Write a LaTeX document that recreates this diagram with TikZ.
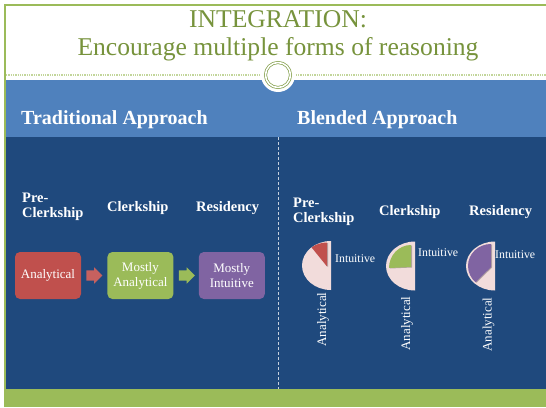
\documentclass[tikz,border=0pt]{standalone}
\usepackage{fontspec}
\setmainfont{Liberation Serif}
\usetikzlibrary{positioning, shapes.arrows, calc}

\definecolor{titlegreen}{HTML}{77933C}
\definecolor{bargreen}{HTML}{9BBB59}
\definecolor{bandblue}{HTML}{4F81BD}
\definecolor{deepblue}{HTML}{1F497D}
\definecolor{boxred}{HTML}{C0504D}
\definecolor{boxpurple}{HTML}{8064A2}
\definecolor{piepink}{HTML}{F2DCDB}

\tikzset{
  ttl/.style={text=titlegreen, font=\fontsize{25.6}{28}\selectfont, anchor=base, inner sep=0pt},
  head/.style={text=white, font=\bfseries\fontsize{20}{24}\selectfont, anchor=base west, inner sep=0pt},
  stage/.style={text=white, font=\bfseries\fontsize{14.5}{16}\selectfont, anchor=base west, inner sep=0pt},
  phase/.style={rounded corners=5pt, minimum width=66pt, minimum height=47pt,
                text=white, align=center, font=\fontsize{13}{15}\selectfont, inner sep=1pt},
  push/.style={single arrow, single arrow head extend=3pt, inner xsep=0pt, inner ysep=5pt,
               minimum height=16pt},
  slice/.style={text=white, font=\fontsize{11.8}{13}\selectfont, anchor=base west, inner sep=0pt},
  axislbl/.style={text=white, font=\fontsize{13}{15}\selectfont, rotate=90, inner sep=0pt}
}

% half pie with the intuitive share pulled out
\newcommand{\halfpie}[5]{%
  \fill[piepink] (#1) ++(0,24.5) arc[start angle=90, end angle=270, x radius=29, y radius=24.5] -- cycle;
  \fill[black, opacity=0.25] ($(#1)+(-3,-1.5)$) -- ++(90:#4) arc[start angle=90, end angle=#3, x radius=#4, y radius=#5] -- cycle;
  \fill[#2] ($(#1)+(-4,-1)$) -- ++(90:#4) arc[start angle=90, end angle=#3, x radius=#4, y radius=#5] -- cycle;
}

\begin{document}
\begin{tikzpicture}[x=1pt, y=1pt]
\useasboundingbox (0,0) rectangle (546,-407);
\fill[white] (0,0) rectangle (546,-407);

% slide frame and bands
\fill[bandblue] (6,-80) rectangle (546,-137);
\fill[deepblue] (6,-137) rectangle (546,-389);
\fill[bargreen] (6,-389) rectangle (546,-407);
\draw[bargreen, line width=1.2pt] (546,-5) -- (5,-5) -- (5,-407);
\draw[bargreen!60, densely dotted, line width=1.3pt] (6,-75) -- (546,-75);
\draw[white!75!deepblue, densely dashed, line width=0.6pt] (278,-137) -- (278,-389);

\fill[white] (278,-75) circle[radius=17];
\draw[titlegreen!80!bargreen, line width=0.7pt, double=white, double distance=1.6pt] (278,-75) circle[radius=12.5];

\node[ttl] (ttlA) at (278,-27) {INTEGRATION:};
\node[ttl] (ttlB) at (278,-55) {Encourage multiple forms of reasoning};

\node[head] (trad) at (21,-124) {Traditional Approach};
\node[head] (blend) at (297,-124) {Blended Approach};

% traditional approach
\node[stage] (preA) at (22,-202) {Pre-};
\node[stage, below=15pt of preA.base west, anchor=base west] (preB) {Clerkship};
\node[stage] (clerk) at (107,-211) {Clerkship};
\node[stage] (resid) at (196,-211) {Residency};

\node[phase, fill=boxred] (anal) at (48,-275.5) {Analytical};
\node[phase, fill=bargreen, right=26pt of anal] (most) {Mostly\\Analytical};
\node[phase, fill=boxpurple, right=25pt of most] (intu) {Mostly\\Intuitive};
\node[push, fill=boxred!90!white, right=5pt of anal] (pushA) {};
\node[push, fill=bargreen, right=5pt of most] (pushB) {};

% blended approach
\node[stage] (bpreA) at (293,-207.5) {Pre-};
\node[stage, below=15pt of bpreA.base west, anchor=base west] (bpreB) {Clerkship};
\node[stage] (bclerk) at (379,-215) {Clerkship};
\node[stage] (bresid) at (469,-215) {Residency};

\coordinate (pieA) at (331,-265.5);
\coordinate (pieB) at (415,-266);
\coordinate (pieC) at (495,-266);
\halfpie{pieA}{boxred}{130}{24}{21}
\halfpie{pieB}{bargreen}{180}{22}{23}
\halfpie{pieC}{boxpurple}{228}{23}{22}

\node[slice] (intA) at (335,-262) {Intuitive};
\node[slice] (intB) at (418,-256) {Intuitive};
\node[slice] (intC) at (495,-258) {Intuitive};
\node[axislbl] (anA) at (323,-319.5) {Analytical};
\node[axislbl] (anB) at (407,-323.5) {Analytical};
\node[axislbl] (anC) at (488.5,-324.5) {Analytical};
\end{tikzpicture}
\end{document}
